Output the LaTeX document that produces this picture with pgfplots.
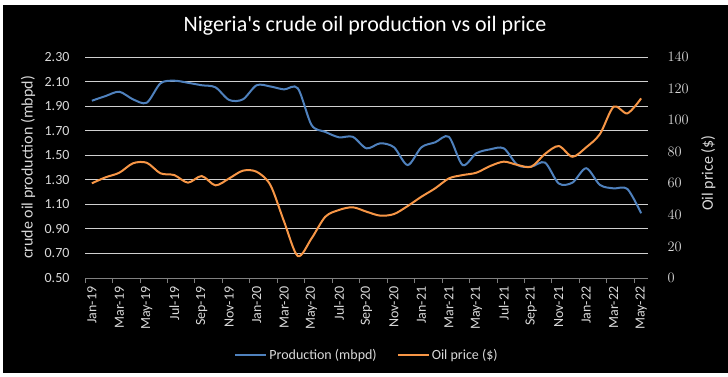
\documentclass[border=0pt]{standalone}
\usepackage{fontspec}
\setmainfont{Carlito}
\usepackage{pgfplots}
\usepackage{pgfplotstable}
\pgfplotsset{compat=1.18}
\definecolor{prodblue}{HTML}{4F81BD}
\definecolor{priceorange}{HTML}{F79646}
\definecolor{gridgray}{HTML}{D0D0D0}
\definecolor{txtgray}{HTML}{D9D9D9}
\pgfplotstableread{
i prod price
0 1.944 60.0
1 1.982 63.8
2 2.017 66.7
3 1.955 72.7
4 1.928 73.0
5 2.086 66.3
6 2.107 65.2
7 2.090 60.4
8 2.070 64.6
9 2.053 58.7
10 1.950 63.1
11 1.955 68.0
12 2.070 67.3
13 2.060 58.9
14 2.036 35.7
15 2.045 13.9
16 1.746 25.1
17 1.690 38.8
18 1.646 43.1
19 1.650 44.8
20 1.556 42.0
21 1.597 39.5
22 1.565 40.5
23 1.420 45.6
24 1.565 51.5
25 1.605 56.8
26 1.650 63.1
27 1.420 65.2
28 1.516 66.7
29 1.548 70.9
30 1.556 73.7
31 1.420 71.6
32 1.407 70.5
33 1.440 78.6
34 1.270 83.6
35 1.277 76.8
36 1.394 82.8
37 1.258 91.2
38 1.230 108.5
39 1.225 104.3
40 1.027 113.8
}\datatable
\begin{document}
\begin{tikzpicture}[x=1pt,y=1pt]
\useasboundingbox (0,0) rectangle (728,376);
\fill[white] (0,0) rectangle (728,376);
\fill[black] (3,3) rectangle (728,371);
\node[text=white, font=\fontsize{22}{26}\selectfont] at (365,350) {Nigeria\textquotesingle s crude oil production vs oil price};
\begin{axis}[
  at={(85pt,98pt)}, anchor=south west, scale only axis,
  width=563pt, height=221pt,
  xmin=-0.5, xmax=40.5, ymin=0.5, ymax=2.3,
  axis x line*=bottom, axis y line*=left,
  x axis line style={draw=gray, line width=0.8pt},
  y axis line style={draw=none},
  major tick length=0pt,
  ymajorgrids, grid style={gridgray, line width=0.8pt},
  ytick={0.5,0.7,0.9,1.1,1.3,1.5,1.7,1.9,2.1,2.3},
  yticklabels={0.50,0.70,0.90,1.10,1.30,1.50,1.70,1.90,2.10,2.30},
  yticklabel style={font=\fontsize{14}{16}\selectfont, text=txtgray, anchor=east, xshift=-12pt},
  xtick={0,2,...,40},
  xticklabels={Jan-19,Mar-19,May-19,Jul-19,Sep-19,Nov-19,Jan-20,Mar-20,May-20,Jul-20,Sep-20,Nov-20,Jan-21,Mar-21,May-21,Jul-21,Sep-21,Nov-21,Jan-22,Mar-22,May-22},
  xticklabel style={font=\fontsize{14}{16}\selectfont, text=txtgray, rotate=90, anchor=east, xshift=-5pt},
  extra x ticks={-0.5,1.5,...,39.5},
  extra x tick labels={},
  extra x tick style={major tick length=5pt, tick align=outside, grid=none, tick style={draw=gray, line width=0.8pt}},
  ylabel={crude oil production (mbpd)},
  ylabel style={at={(axis description cs:-0.101,0.5)}, anchor=center, rotate=0, font=\fontsize{16}{18}\selectfont, text=txtgray},
  clip=false,
]
\addplot[prodblue, line width=2pt, smooth, tension=0.5] table[x=i, y=prod] {\datatable};
\end{axis}
\begin{axis}[
  at={(85pt,98pt)}, anchor=south west, scale only axis,
  width=563pt, height=221pt,
  xmin=-0.5, xmax=40.5, ymin=0, ymax=140,
  axis x line=none, axis y line*=right,
  y axis line style={draw=none},
  major tick length=0pt,
  ytick={0,20,...,140},
  yticklabel style={font=\fontsize{14}{16}\selectfont, text=txtgray, anchor=west, xshift=16pt},
  ylabel={Oil price (\$)},
  ylabel style={at={(axis description cs:1.107,0.475)}, anchor=center, rotate=0, font=\fontsize{16}{18}\selectfont, text=txtgray},
  legend style={at={(axis description cs:0.501,-0.348)}, anchor=center, draw=none, fill=none, text=txtgray, font=\fontsize{14}{16}\selectfont, inner sep=0pt},
  legend columns=2,
  /tikz/every even column/.append style={column sep=18pt},
  legend image code/.code={\draw[#1, line width=2pt] (0pt,0pt) -- (31pt,0pt);},
  clip=false,
]
\addlegendimage{prodblue}
\addlegendentry{Production (mbpd)}
\addplot[priceorange, line width=2pt, smooth, tension=0.5] table[x=i, y=price] {\datatable};
\addlegendentry{Oil price (\$)}
\end{axis}
\end{tikzpicture}
\end{document}
